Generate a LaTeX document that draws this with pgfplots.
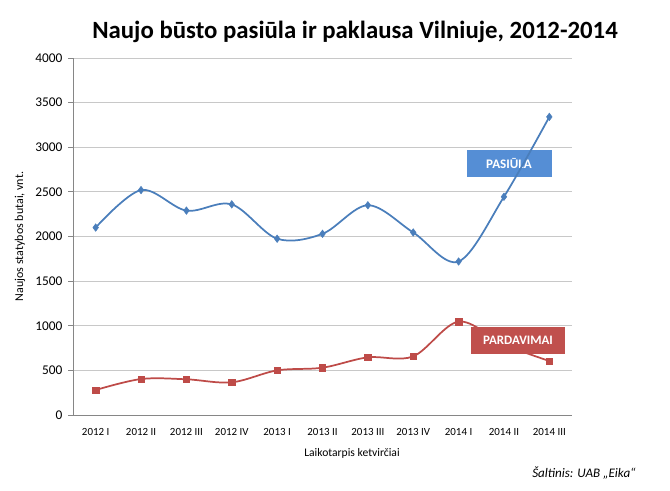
\documentclass[border=0pt]{standalone}
\usepackage{pgfplots}
\pgfplotsset{compat=1.18}
\usepackage{fontspec}
\setmainfont{Carlito}
\definecolor{blueline}{HTML}{4A7EBB}
\definecolor{redline}{HTML}{BE4B48}
\definecolor{bluebox}{HTML}{558ED5}
\definecolor{redbox}{HTML}{C0504D}
\definecolor{gridc}{HTML}{C8C8C8}
\definecolor{axisc}{HTML}{868686}
\begin{document}
\begin{tikzpicture}
\path[use as bounding box] (0,0) rectangle (502.5pt,368.25pt);
\node[fill=bluebox, text=white, font=\fontsize{9.8}{11}\selectfont\bfseries, minimum width=63.75pt, minimum height=20.25pt, inner sep=0pt] at (381.75pt,245.8pt) {PASIŪLA};
\begin{axis}[
  at={(54.75pt,57pt)}, anchor=south west,
  scale only axis, width=374.25pt, height=267.75pt,
  xmin=-0.5, xmax=10.5, ymin=0, ymax=4000,
  xtick={0,...,10},
  xticklabels={2012 I,2012 II,2012 III,2012 IV,2013 I,2013 II,2013 III,2013 IV,2014 I,2014 II,2014 III},
  ytick={0,500,...,4000},
  axis x line*=bottom, axis y line*=left,
  axis line style={axisc, line width=0.6pt},
  x axis line style={-}, y axis line style={-},
  ymajorgrids, grid style={gridc, line width=0.6pt},
  major x tick style={draw=none},
  major y tick style={axisc, line width=0.6pt},
  tick align=outside, major tick length=3.5pt,
  /pgf/number format/assume math mode=true,
  /pgf/number format/1000 sep={},
  yticklabel style={font=\fontsize{10}{12}\selectfont, xshift=-1pt},
  xticklabel style={font=\fontsize{8.2}{10}\selectfont, yshift=-3pt},
  clip=false,
]
\addplot[blueline, line width=1.3pt, smooth, tension=0.55, mark=diamond*, mark size=2.8pt, mark options={fill=blueline, draw=blueline, line width=0.4pt}]
coordinates {(0,2100) (1,2520) (2,2290) (3,2360) (4,1975) (5,2030) (6,2350) (7,2045) (8,1720) (9,2445) (10,3340)};
\addplot[redline, line width=1.3pt, smooth, tension=0.55, mark=square*, mark size=2.4pt, mark options={fill=redline, draw=redline, line width=0.4pt}]
coordinates {(0,280) (1,403) (2,400) (3,366) (4,500) (5,530) (6,646) (7,657) (8,1046) (9,790) (10,605)};
\coordinate (pard) at (axis cs:9.31,835);
\end{axis}
\node[fill=redbox, text=white, font=\fontsize{9.7}{11}\selectfont\bfseries, minimum width=71pt, minimum height=19.8pt, inner sep=0pt] at (pard) {PARDAVIMAI};
\node[font=\fontsize{18.6}{22}\selectfont\bfseries] at (266.25pt,344.25pt) {Naujo būsto pasiūla ir paklausa Vilniuje, 2012-2014};
\node[rotate=90, font=\fontsize{9}{11}\selectfont] at (15pt,190.9pt) {Naujos statybos butai, vnt.};
\node[font=\fontsize{8.7}{10}\selectfont] at (264pt,28.5pt) {Laikotarpis ketvirčiai};
\node[font=\fontsize{9.8}{11}\selectfont\itshape] at (438pt,13.5pt) {Šaltinis: UAB „Eika“};
\end{tikzpicture}
\end{document}
